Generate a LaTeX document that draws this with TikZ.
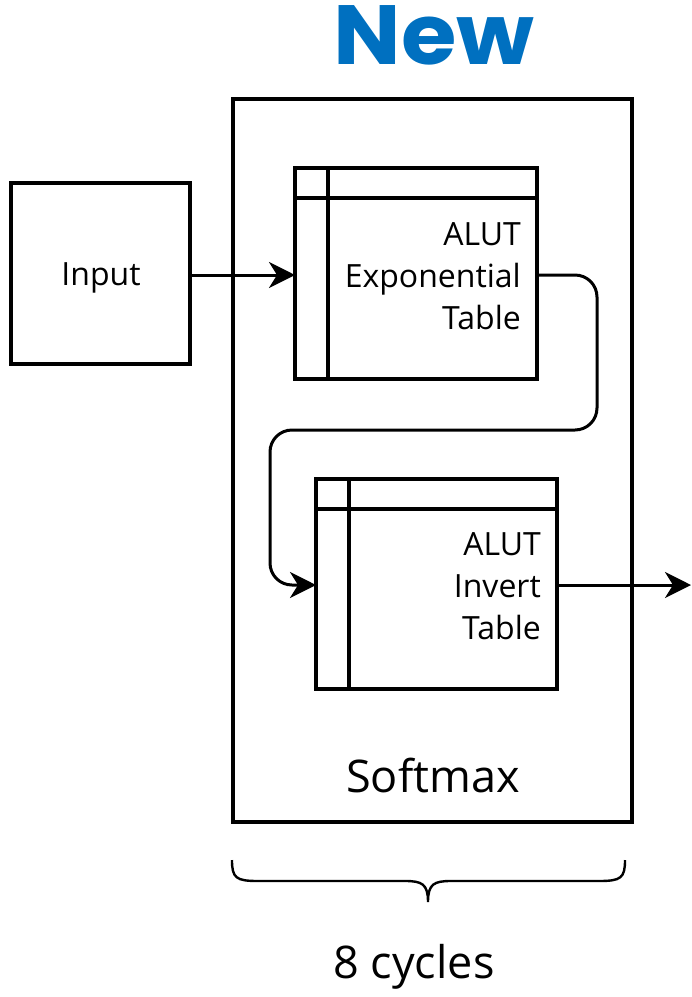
\documentclass[tikz,border=0pt]{standalone}
\usepackage{fontspec}
\setmainfont{Open Sans}
\newfontfamily\titlefont{Poppins}
\usetikzlibrary{arrows.meta}
\definecolor{newblue}{RGB}{0,112,192}
\begin{document}
\begin{tikzpicture}[x=1pt,y=-1pt,
  box/.style={draw, line width=3.2pt, inner sep=0pt},
  txt/.style={font=\fontsize{32}{42}\selectfont, inner sep=0pt, align=right},
  big/.style={font=\fontsize{45}{50}\selectfont, inner sep=0pt},
  conn/.style={line width=3pt, rounded corners=22pt, -{Stealth[length=26pt,width=26pt,inset=8pt]}}
]
\useasboundingbox (0,0) rectangle (692,997);
% title
\node[text=newblue, font=\titlefont\bfseries\fontsize{84}{90}\selectfont, inner sep=0pt] (title) at (434,35) {\scalebox{1.07}[1]{New}};
% softmax frame
\draw[box] (233,99) rectangle (632,822);
\node[big] (smx) at (433,775) {Softmax};
% input
\draw[box] (11,183) rectangle (190,364);
\coordinate (inE) at (190,275);
\node[txt] (input) at (101,278) {Input};
% table 1
\draw[box] (295,168) rectangle (537,379);
\draw[box] (295,198) -- (537,198);
\draw[box] (328,168) -- (328,379);
\coordinate (t1W) at (295,275);
\coordinate (t1E) at (537,275);
\node[txt, anchor=east] (t1) at (521,276) {ALUT\\Exponential\\Table};
% table 2
\draw[box] (316,479) rectangle (557,689);
\draw[box] (316,509) -- (557,509);
\draw[box] (349,479) -- (349,689);
\coordinate (t2W) at (316,585);
\coordinate (t2E) at (557,585);
\node[txt, anchor=east] (t2) at (541,586) {ALUT\\Invert\\Table};
\coordinate (out) at (691,585);
% connectors
\draw[conn] (inE) -- (t1W);
\draw[conn] (t1E) -- (597,275) -- (597,430) -- (270,430) -- (270,585) -- (t2W);
\draw[conn] (t2E) -- (out);
% brace
\draw[line width=2.4pt] (232,860) .. controls (232,878) and (236,881) .. (258,881)
  -- (405,881) .. controls (422,881) and (428,884) .. (428,902)
  (428,902) .. controls (428,884) and (434,881) .. (451,881)
  -- (599,881) .. controls (621,881) and (625,878) .. (625,860);
\node[big] (cyc) at (414,967) {8 cycles};
\end{tikzpicture}
\end{document}
